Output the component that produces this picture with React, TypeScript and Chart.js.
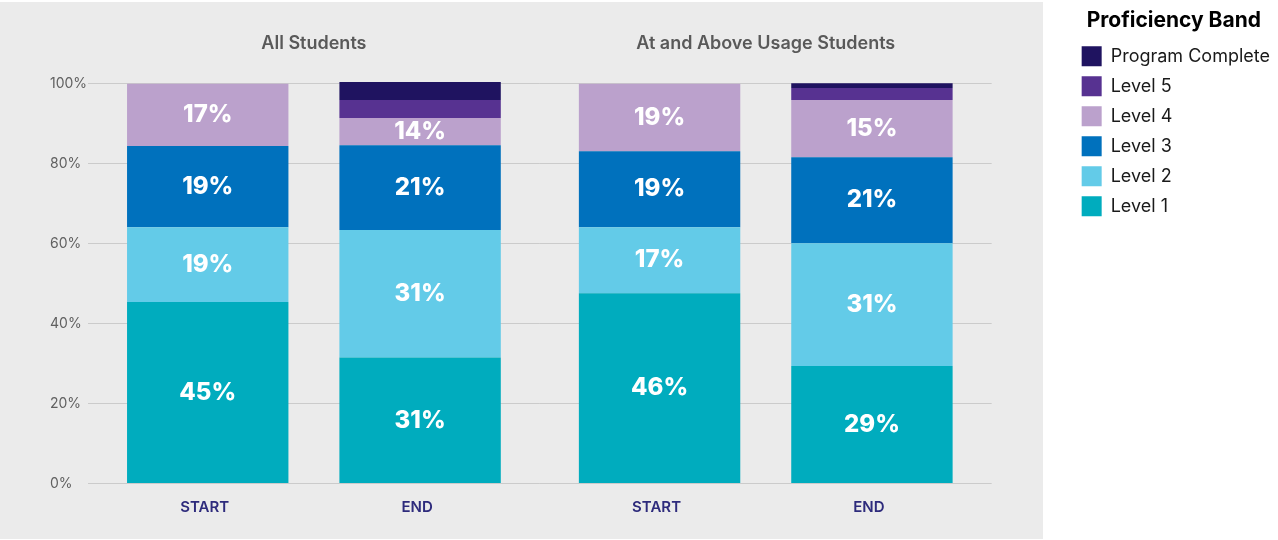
import React, { useEffect, useRef } from "react";
import { Chart, registerables } from "chart.js";

Chart.register(...registerables);

const groups = ["All Students", "At and Above Usage Students"];
const stacks = ["START", "END"];
const levels = ["Level 1", "Level 2", "Level 3", "Level 4", "Level 5", "Program Complete"];
const levelColors = ["#00acbe", "#63cbe8", "#0071bd", "#bba1cc", "#573291", "#1f1360"];

// values per bar, in order: All START, All END, Above START, Above END
const level1 = [45.4, 31.5, 47.6, 29.4];
const level2 = [18.7, 31.9, 16.5, 30.7];
const level3 = [20.3, 21.2, 19.0, 21.5];
const level4 = [15.6, 6.8, 16.9, 14.3];
const level5 = [0, 4.5, 0, 3.0];
const programComplete = [0, 4.5, 0, 1.2];

const level1Labels = ["45%", "31%", "46%", "29%"];
const level2Labels = ["19%", "31%", "17%", "31%"];
const level3Labels = ["19%", "21%", "19%", "21%"];
const level4Labels = ["17%", "14%", "19%", "15%"];

const yTickStep = 20;
const yMax = 100;

const levelValues = [level1, level2, level3, level4, level5, programComplete];
const levelLabels: (string[] | null)[] = [level1Labels, level2Labels, level3Labels, level4Labels, null, null];

const FONT = "Inter, 'Open Sans', sans-serif";

const segmentLabelsPlugin = {
  id: "segmentLabels",
  afterDatasetsDraw(chart: any) {
    const ctx = chart.ctx;
    ctx.save();
    ctx.fillStyle = "#ffffff";
    ctx.font = `800 24px ${FONT}`;
    ctx.textAlign = "center";
    ctx.textBaseline = "middle";
    chart.data.datasets.forEach((ds: any, i: number) => {
      const labels = ds.segmentLabels;
      if (!labels) return;
      const meta = chart.getDatasetMeta(i);
      meta.data.forEach((el: any, j: number) => {
        const p = el.getProps(["x", "y", "base"], true);
        if (labels[j]) ctx.fillText(labels[j], p.x, (p.y + p.base) / 2);
      });
    });
    ctx.restore();
  },
};

const stackLabelsPlugin = {
  id: "stackLabels",
  afterDraw(chart: any) {
    const ctx = chart.ctx;
    ctx.save();
    ctx.fillStyle = "#2e2b7c";
    ctx.font = `600 15px ${FONT}`;
    ctx.textAlign = "center";
    ctx.textBaseline = "middle";
    const y = chart.chartArea.bottom + 24;
    chart.data.datasets.forEach((ds: any, i: number) => {
      if (!ds.isBaseOfStack) return;
      const meta = chart.getDatasetMeta(i);
      meta.data.forEach((el: any) => {
        const p = el.getProps(["x"], true);
        ctx.fillText(ds.stack, p.x - 3, y);
      });
    });
    ctx.restore();
  },
};

export default function App() {
  const canvasRef = useRef<HTMLCanvasElement | null>(null);

  useEffect(() => {
    document.body.style.margin = "0";
    const datasets: any[] = [];
    stacks.forEach((stack, s) => {
      levels.forEach((level, l) => {
        const labels = levelLabels[l];
        datasets.push({
          label: level,
          stack,
          data: groups.map((_, g) => levelValues[l][g * 2 + s]),
          backgroundColor: levelColors[l],
          borderWidth: 0,
          categoryPercentage: 0.94,
          barPercentage: 0.76,
          clip: false,
          segmentLabels: labels ? groups.map((_, g) => labels[g * 2 + s]) : null,
          isBaseOfStack: l === 0,
        });
      });
    });

    const chart = new Chart(canvasRef.current as HTMLCanvasElement, {
      type: "bar",
      data: { labels: groups, datasets },
      options: {
        responsive: false,
        animation: false,
        layout: { padding: { left: 50, top: 0, right: 2, bottom: 56.5 } },
        scales: {
          x: {
            position: "top",
            stacked: true,
            grid: { display: false, drawTicks: false },
            border: { display: false },
            ticks: {
              color: "#595959",
              padding: 29,
              font: { family: FONT, size: 18, weight: "600" },
            },
            afterFit(scale: any) {
              scale.height = 83.7;
            },
          },
          y: {
            stacked: true,
            min: 0,
            max: yMax,
            grid: { color: "#cbcbcb", lineWidth: 1, drawTicks: false },
            border: { display: false },
            ticks: {
              stepSize: yTickStep,
              crossAlign: "far",
              padding: 0,
              color: "#606060",
              font: { family: FONT, size: 14, weight: "400" },
              callback: (v: any) => `${v}%`,
            },
            afterFit(scale: any) {
              scale.width = 38;
            },
          },
          yGap: {
            type: "linear",
            position: "right",
            display: true,
            grid: { display: false, drawTicks: false },
            border: { display: false },
            ticks: { display: false },
            afterFit(scale: any) {
              scale.width = 80;
            },
          },
        },
        plugins: {
          tooltip: { enabled: false },
          legend: {
            position: "right",
            align: "start",
            reverse: true,
            labels: {
              boxWidth: 20,
              boxHeight: 20,
              padding: 10,
              color: "#1a1a1a",
              font: { family: FONT, size: 18 },
              filter: (item: any) => item.datasetIndex < levels.length,
            },
            title: {
              display: true,
              text: "Proficiency Band",
              position: "center",
              color: "#000000",
              padding: { top: 10, bottom: 1 },
              font: { family: FONT, size: 21, weight: "700" },
            },
          },
        },
      } as any,
      plugins: [segmentLabelsPlugin, stackLabelsPlugin],
    });
    return () => chart.destroy();
  }, []);

  return (
    <div style={{ position: "fixed", left: 0, top: 0, width: 1278, height: 540, background: "#ffffff" }}>
      <div style={{ position: "absolute", left: 0, top: 2, width: 1043, height: 537, background: "#ebebeb" }} />
      <canvas
        ref={canvasRef}
        width={1278}
        height={540}
        style={{ position: "absolute", left: 0, top: 0, display: "block" }}
      />
    </div>
  );
}
